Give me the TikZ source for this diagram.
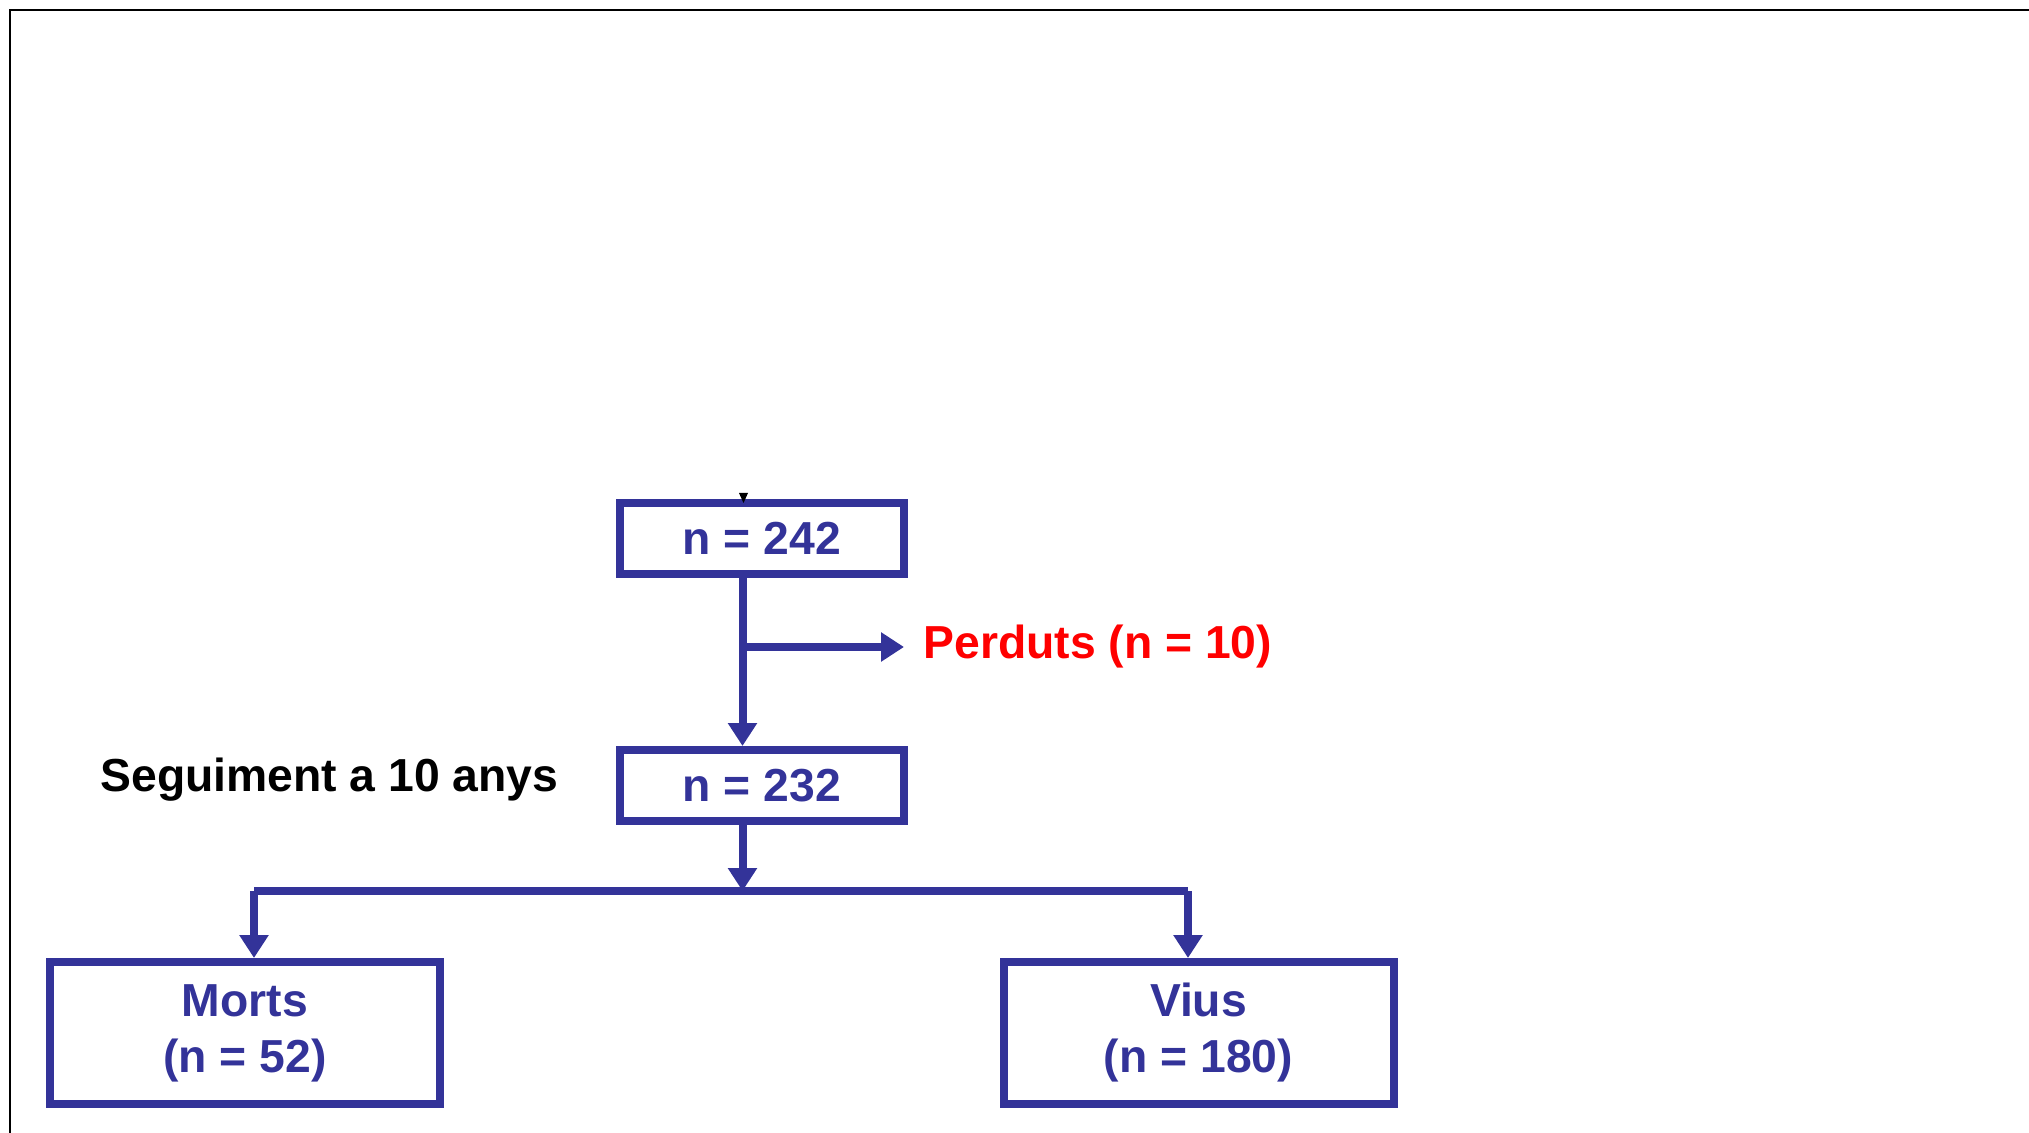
\documentclass[tikz,border=0pt]{standalone}
\usepackage{fontspec}
\setmainfont{Liberation Sans}
\usetikzlibrary{arrows.meta}
\definecolor{fblue}{RGB}{51,51,153}
\begin{document}
\begin{tikzpicture}[x=0.5pt,y=-0.5pt,
  lbl/.style={font=\bfseries\fontsize{23.15}{28}\selectfont},
  box/.style={lbl, draw=fblue, line width=4pt, inner sep=0pt, text=fblue, align=center},
  smallbox/.style={box, minimum width=142pt, minimum height=35.5pt},
  bigbox/.style={box, minimum width=195pt, minimum height=71pt},
  conn/.style={draw=fblue, line width=4pt},
  arr/.style={conn, -{Triangle[length=11.5pt,width=14pt]}},
  frame/.style={draw=black, line width=1.25pt}]
\path[use as bounding box] (0,0) rectangle (2029,1133);
\draw[frame] (10,1133) -- (10,10) -- (2029,10);

\node[smallbox] (b242) at (762,538.5) {\raisebox{-1pt}{n = 242}};
\node[smallbox] (b232) at (762,785.5) {\raisebox{-1pt}{n = 232}};
\node[bigbox] (morts) at (245,1033) {Morts\\(n = 52)};
\node[bigbox] (vius) at (1198.5,1033) {Vius\\(n = 180)};
\node[lbl, anchor=base west, inner xsep=9.5pt, inner ysep=0pt, text=red] (perduts) at (904,659) {Perduts (n = 10)};
\node[lbl, anchor=base west, inner sep=0pt, text=black] (seg) at (100,791) {Seguiment a 10 anys};

\coordinate (stem) at (742.5,647);
\coordinate (bar) at (742.5,891);
\coordinate (barL) at (254,891);
\coordinate (barR) at (1188,891);
\coordinate (toptip) at (743.5,503);

\fill[black] (toptip) -- ++(-4.5,-10) -- ++(9,0) -- cycle;

\draw[arr] (stem |- b242.south) -- (stem |- b232.north);
\draw[arr] (stem) -- (stem -| perduts.west);
\draw[arr] (stem |- b232.south) -- (bar);
\draw[conn] (barL) -- (barR);
\draw[arr] (barL) -- (barL |- morts.north);
\draw[arr] (barR) -- (barR |- vius.north);
\end{tikzpicture}
\end{document}
